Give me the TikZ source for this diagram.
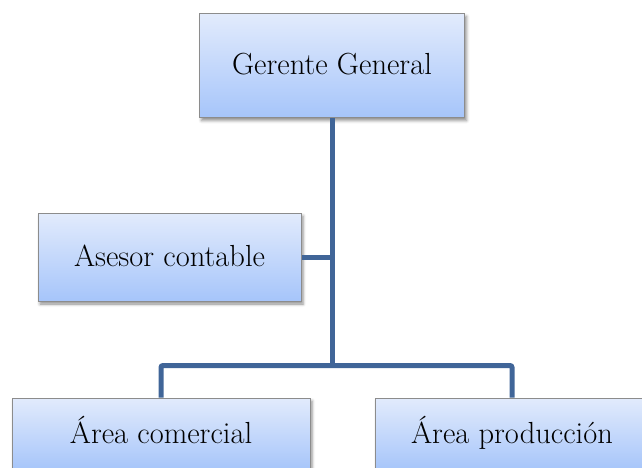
\documentclass[tikz,border=0pt]{standalone}
\usepackage{fontspec}
\usetikzlibrary{shadows.blur}
\definecolor{boxtop}{RGB}{226,235,252}
\definecolor{boxbot}{RGB}{166,197,250}
\definecolor{boxline}{RGB}{140,140,140}
\definecolor{conn}{RGB}{64,101,152}
\tikzset{
  orgbox/.style={draw=boxline, line width=1pt, top color=boxtop, bottom color=boxbot,
    inner sep=0pt, font=\fontsize{30.5}{36}\selectfont, text height=24pt, text depth=6pt,
    blur shadow={shadow xshift=2pt, shadow yshift=-3pt, shadow blur radius=3pt, shadow opacity=45}},
  connline/.style={draw=conn, line width=5pt, rounded corners=2pt}
}
\begin{document}
\begin{tikzpicture}[x=1pt,y=-1pt]
\useasboundingbox (0,0) rectangle (642,468);
\clip (0,0) rectangle (642,468);
\node[orgbox, minimum width=265pt, minimum height=104pt] (g) at (332,65.5) {Gerente General};
\node[orgbox, minimum width=263pt, minimum height=88pt] (a) at (169.5,257) {Asesor contable};
\node[orgbox, minimum width=298pt, minimum height=72pt] (c) at (161,434) {Área comercial};
\node[orgbox, minimum width=274pt, minimum height=72pt] (p) at (512,434) {Área producción};
\coordinate (j) at (332,365.5);
\draw[connline] (a.east) -- (a.east -| j);
\draw[connline] (c.north) |- (j) -| (p.north);
\draw[connline] (g.south) -- (j);
\end{tikzpicture}
\end{document}
